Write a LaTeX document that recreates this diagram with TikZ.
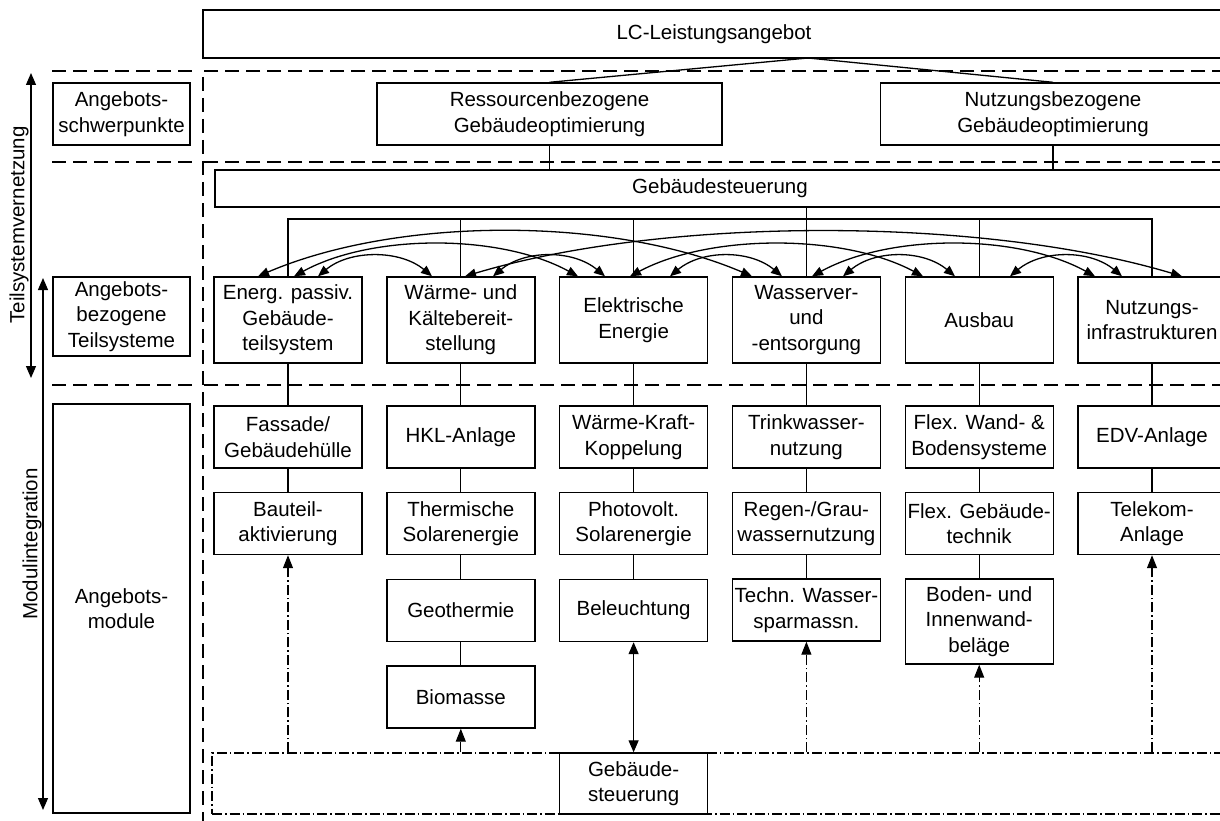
\documentclass[tikz,border=0pt]{standalone}
\usepackage{fontspec}
\setmainfont{Liberation Sans}
\usetikzlibrary{arrows.meta,calc}
\newcommand\dfont{\fontsize{20.5}{25.5}\selectfont}
\begin{document}
\begin{tikzpicture}[x=1pt,y=-1pt,
  box/.style={draw,line width=1.4pt,inner sep=0pt,align=center,font=\dfont,minimum width=148pt,minimum height=62pt},
  dline/.style={line width=2.2pt,dash pattern=on 14pt off 7pt},
  ddline/.style={line width=1.2pt,dash pattern=on 10pt off 3pt on 1.5pt off 3pt},
  conn/.style={line width=1.3pt},
  arc/.style={line width=1.3pt,{Triangle[length=11pt,width=9pt]}-{Triangle[length=11pt,width=9pt]}},
  dbl/.style={line width=1.3pt,{Triangle[length=12pt,width=10pt]}-{Triangle[length=12pt,width=10pt]}},
  up/.style={-{Triangle[length=13pt,width=10pt]}},
  lbl/.style={font=\dfont,rotate=90,inner sep=0pt}
]
\useasboundingbox (0,0) rectangle (1220,821);
\fill[white] (0,0) rectangle (1220,821);
\clip (0,0) rectangle (1220,821);

% dashed grid
\draw[dline] (52,71) -- (195,71);
\draw[dline] (52,162) -- (195,162);
\draw[dline] (52,385) -- (195,385);
\draw[dline] (1226,71) -- (203,71) -- (203,826);
\draw[dline] (1226,162) -- (203,162);
\draw[dline] (1226,385) -- (203,385);

% top boxes
\node[box,minimum width=1022pt,minimum height=48pt] (lc) at (714,34) {LC-Leistungsangebot};
\node[box,minimum width=137pt] (ls1) at (121.5,114) {Angebots-\\schwerpunkte};
\node[box,minimum width=137pt,minimum height=79pt] (ls2) at (121.5,316.5) {Angebots-\\bezogene\\Teilsysteme};
\node[box,minimum width=137pt,minimum height=409pt] (ls3) at (121.5,608.5) {Angebots-\\module};

\node[box,minimum width=345pt] (r1) at (549.5,114) {Ressourcenbezogene\\Gebäudeoptimierung};
\node[box,minimum width=345pt] (r2) at (1053,114) {Nutzungsbezogene\\Gebäudeoptimierung};
\node[box,minimum width=1010pt,minimum height=37pt] (gs) at (720,188.5) {Gebäudesteuerung};

% subsystems
\node[box,minimum height=86pt] (s1) at (288,320) {Energ. passiv.\\Gebäude-\\teilsystem};
\node[box,minimum height=86pt] (s2) at (460.8,320) {Wärme- und\\Kältebereit-\\stellung};
\node[box,minimum height=86pt] (s3) at (633.6,320) {Elektrische\\Energie};
\node[box,minimum height=86pt] (s4) at (806.4,320) {Wasserver-\\und\\-entsorgung};
\node[box,minimum height=86pt] (s5) at (979.2,320) {Ausbau};
\node[box,minimum height=86pt] (s6) at (1152,320) {Nutzungs-\\infrastrukturen};

% modules
\node[box] (m11) at (288,437) {Fassade/\\Gebäudehülle};
\node[box] (m12) at (288,523.5) {Bauteil-\\aktivierung};
\node[box] (m21) at (460.8,437) {HKL-Anlage};
\node[box] (m22) at (460.8,523.5) {Thermische\\Solarenergie};
\node[box] (m23) at (460.8,610.5) {Geothermie};
\node[box] (m24) at (460.8,697) {Biomasse};
\node[box] (m31) at (633.6,437) {Wärme-Kraft-\\Koppelung};
\node[box] (m32) at (633.6,523.5) {Photovolt.\\Solarenergie};
\node[box] (m33) at (633.6,610.5) {Beleuchtung};
\node[box] (m41) at (806.4,437) {Trinkwasser-\\nutzung};
\node[box] (m42) at (806.4,523.5) {Regen-/Grau-\\wassernutzung};
\node[box] (m43) at (806.4,610) {Techn. Wasser-\\sparmassn.};
\node[box] (m51) at (979.2,437) {Flex. Wand- \&\\Bodensysteme};
\node[box] (m52) at (979.2,523.5) {Flex. Gebäude-\\technik};
\node[box,minimum height=85pt] (m53) at (979.2,621.5) {Boden- und\\Innenwand-\\beläge};
\node[box] (m61) at (1152,437) {EDV-Anlage};
\node[box] (m62) at (1152,523.5) {Telekom-\\Anlage};

% bottom control frame
\node[draw,ddline,inner sep=0pt,minimum width=1018pt,minimum height=61pt] (gb) at (721,783.5) {};
\node[box,fill=white,minimum height=61pt] (gsb) at (633.6,783.5) {Gebäude-\\steuerung};

% left labels and arrows
\node[lbl] (tv) at (19,225) {Teilsystemvernetzung};
\node[lbl] (mi) at (32,544) {Modulintegration};
\coordinate (a1t) at (31,73);
\coordinate (a1b) at (31,378);
\coordinate (a2t) at (43,278);
\coordinate (a2b) at (43,810);
\draw[dbl] (a1t) -- (a1b);
\draw[dbl] (a2t) -- (a2b);

% connectors top
\coordinate (apex) at (808,58);
\draw[conn] (apex) -- (r1.north);
\draw[conn] (apex) -- (r2.north);
\draw[conn] (r1.south) -- (r1.south |- gs.north);
\draw[conn] (r2.south) -- (r2.south |- gs.north);
\coordinate (bar) at (0,219);
\draw[conn] (s1.north) -- (s1.north |- bar) -- (s6.north |- bar) -- (s6.north);
\draw[conn] (s2.north) -- (s2.north |- bar);
\draw[conn] (s3.north) -- (s3.north |- bar);
\draw[conn] (s4.north) -- (s4.north |- gs.south);
\draw[conn] (s5.north) -- (s5.north |- bar);

% arcs between subsystems
\draw[arc] ([xshift=30pt]s1.north) .. controls +(32,-26.7) and +(-32,-26.7) .. ([xshift=-28.8pt]s2.north);
\draw[arc] ([xshift=32.2pt]s2.north) .. controls +(32,-26.7) and +(-32,-26.7) .. ([xshift=-28.6pt]s3.north);
\draw[arc] ([xshift=36.4pt]s3.north) .. controls +(32,-26.7) and +(-32,-26.7) .. ([xshift=-24.4pt]s4.north);
\draw[arc] ([xshift=36.6pt]s4.north) .. controls +(32,-26.7) and +(-32,-26.7) .. ([xshift=-24.2pt]s5.north);
\draw[arc] ([xshift=30.8pt]s5.north) .. controls +(32,-26.7) and +(-32,-26.7) .. ([xshift=-30pt]s6.north);
\draw[arc] ([xshift=6pt]s1.north) .. controls +(78,-42.7) and +(-78,-42.7) .. ([xshift=-55.6pt]s3.north);
\draw[arc] ([xshift=-3.6pt]s3.north) .. controls +(80,-42.7) and +(-80,-42.7) .. ([xshift=-56.2pt]s5.north);
\draw[arc] ([xshift=5.6pt]s4.north) .. controls +(78,-42.7) and +(-78,-42.7) .. ([xshift=-57pt]s6.north);
\draw[arc] ([xshift=-30pt]s1.north) .. controls +(140,-60) and +(-140,-60) .. ([xshift=-54.4pt]s4.north);
\draw[arc] ([xshift=4.2pt]s2.north) .. controls +(200,-60) and +(-200,-60) .. ([xshift=30pt]s6.north);

% subsystem to modules
\draw[conn] (s1.south) -- (m11.north);
\draw[conn] (m11.south) -- (m12.north);
\draw[conn] (s2.south) -- (m21.north);
\draw[conn] (m21.south) -- (m22.north);
\draw[conn] (m22.south) -- (m23.north);
\draw[conn] (m23.south) -- (m24.north);
\draw[conn] (s3.south) -- (m31.north);
\draw[conn] (m31.south) -- (m32.north);
\draw[conn] (m32.south) -- (m33.north);
\draw[conn] (s4.south) -- (m41.north);
\draw[conn] (m41.south) -- (m42.north);
\draw[conn] (m42.south) -- (m43.north);
\draw[conn] (s5.south) -- (m51.north);
\draw[conn] (m51.south) -- (m52.north);
\draw[conn] (m52.south) -- (m53.north);
\draw[conn] (s6.south) -- (m61.north);
\draw[conn] (m61.south) -- (m62.north);

% control arrows
\draw[ddline,up] (m12.south |- gb.north) -- (m12.south);
\draw[ddline,up] (m24.south |- gb.north) -- (m24.south);
\draw[dbl] (m33.south) -- (gsb.north);
\draw[ddline,up] (m43.south |- gb.north) -- (m43.south);
\draw[ddline,up] (m53.south |- gb.north) -- (m53.south);
\draw[ddline,up] (m62.south |- gb.north) -- (m62.south);
\end{tikzpicture}
\end{document}
